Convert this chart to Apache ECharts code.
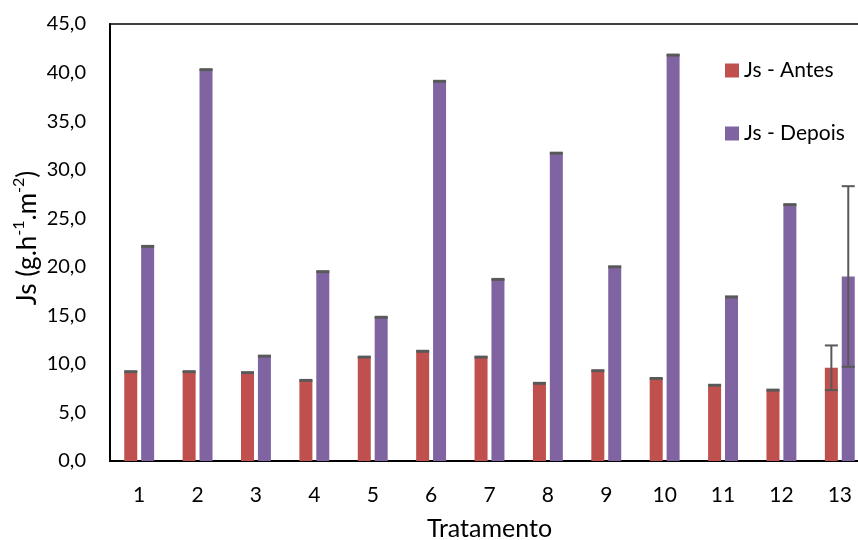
<!DOCTYPE html>
<html>
<head>
<meta charset="utf-8">
<script src="https://cdn.jsdelivr.net/npm/echarts@6/dist/echarts.min.js"></script>
<style>
  html, body { margin: 0; padding: 0; background: #fff; }
  #chart { width: 858px; height: 540px; }
</style>
</head>
<body>
<div id="chart"></div>
<script>
// Treatments 1..13
const categories = ['1', '2', '3', '4', '5', '6', '7', '8', '9', '10', '11', '12', '13'];

// Js before and after (g.h-1.m-2)
const antes  = [9.2, 9.2, 9.1, 8.3, 10.7, 11.3, 10.7, 8.0, 9.3, 8.5, 7.8, 7.3, 9.6];
const depois = [22.1, 40.3, 10.8, 19.5, 14.8, 39.1, 18.7, 31.7, 20.0, 41.8, 16.9, 26.4, 19.0];

// Error (±) for each bar
const antesErr  = [0.05, 0.05, 0.05, 0.05, 0.05, 0.05, 0.05, 0.05, 0.05, 0.05, 0.05, 0.05, 2.3];
const depoisErr = [0.05, 0.05, 0.05, 0.05, 0.05, 0.05, 0.05, 0.05, 0.05, 0.05, 0.05, 0.05, 9.3];

const yTicks = { min: 0, max: 45, interval: 5 };

const FONT = 'Lato';
const BAR_W = 13;
const HALF_OFFSET = 8.45;   // centre of each bar relative to the category centre

function errorBars(values, errs, offset) {
  return {
    type: 'custom',
    z: 10,
    silent: true,
    data: values.map((v, i) => [i, v, errs[i]]),
    renderItem: function (params, api) {
      const i = api.value(0), v = api.value(1), e = api.value(2);
      const hi = api.coord([i, v + e]);
      const lo = api.coord([i, v - e]);
      const x = hi[0] + offset;
      const half = BAR_W / 2;
      const style = { stroke: '#595959', lineWidth: 2 };
      return {
        type: 'group',
        children: [
          { type: 'line', shape: { x1: x, y1: hi[1], x2: x, y2: lo[1] }, style: style },
          { type: 'line', shape: { x1: x - half, y1: hi[1], x2: x + half, y2: hi[1] }, style: style },
          { type: 'line', shape: { x1: x - half, y1: lo[1], x2: x + half, y2: lo[1] }, style: style }
        ]
      };
    }
  };
}

const chart = echarts.init(document.getElementById('chart'), null, { renderer: 'canvas' });

chart.setOption({
  animation: false,
  backgroundColor: '#ffffff',
  textStyle: { fontFamily: FONT },
  grid: {
    left: 110, top: 24, bottom: 79, width: 759,
    outerBoundsMode: 'none',
    containLabel: false,
    show: true, borderColor: '#000', borderWidth: 1.5, backgroundColor: 'transparent'
  },
  legend: {
    orient: 'vertical',
    left: 720, top: 55,
    itemWidth: 14, itemHeight: 14, itemGap: 42,
    textStyle: { fontFamily: FONT, fontSize: 21, color: '#000' },
    data: [
      { name: 'Js - Antes', icon: 'rect' },
      { name: 'Js - Depois', icon: 'rect' }
    ]
  },
  // Y-axis title with superscripts
  graphic: [{
    type: 'text',
    x: 26, y: 238,
    rotation: Math.PI / 2,
    style: {
      text: '{a|Js (g.h}{s|-1}{a|.m}{s|-2}{a|)}',
      align: 'center',
      verticalAlign: 'middle',
      rich: {
        a: { fontFamily: FONT, fontSize: 26, fill: '#000', lineHeight: 30, verticalAlign: 'bottom' },
        s: { fontFamily: FONT, fontSize: 16, fill: '#000', lineHeight: 30, verticalAlign: 'top' }
      }
    }
  }],
  xAxis: {
    type: 'category',
    data: categories,
    boundaryGap: true,
    name: 'Tratamento',
    nameLocation: 'middle',
    nameGap: 55,
    nameTextStyle: { fontFamily: FONT, fontSize: 25, color: '#000' },
    axisLine: { lineStyle: { color: '#000', width: 2 } },
    axisTick: { show: false },
    axisLabel: { fontFamily: FONT, fontSize: 21, color: '#000', margin: 24 },
    splitLine: { show: false }
  },
  yAxis: {
    type: 'value',
    min: yTicks.min, max: yTicks.max, interval: yTicks.interval,
    axisLine: { show: true, lineStyle: { color: '#000', width: 2 } },
    axisTick: { show: false },
    axisLabel: {
      fontFamily: FONT, fontSize: 20, color: '#000', margin: 24,
      formatter: v => v.toFixed(1).replace('.', ',')
    },
    splitLine: { show: false }
  },
  series: [
    {
      name: 'Js - Antes', type: 'bar', data: antes,
      barWidth: BAR_W, barGap: '30%',
      itemStyle: { color: '#C0504D' }
    },
    {
      name: 'Js - Depois', type: 'bar', data: depois,
      barWidth: BAR_W, barGap: '30%',
      itemStyle: { color: '#8064A2' }
    },
    errorBars(antes, antesErr, -HALF_OFFSET),
    errorBars(depois, depoisErr, HALF_OFFSET)
  ]
});
</script>
</body>
</html>
